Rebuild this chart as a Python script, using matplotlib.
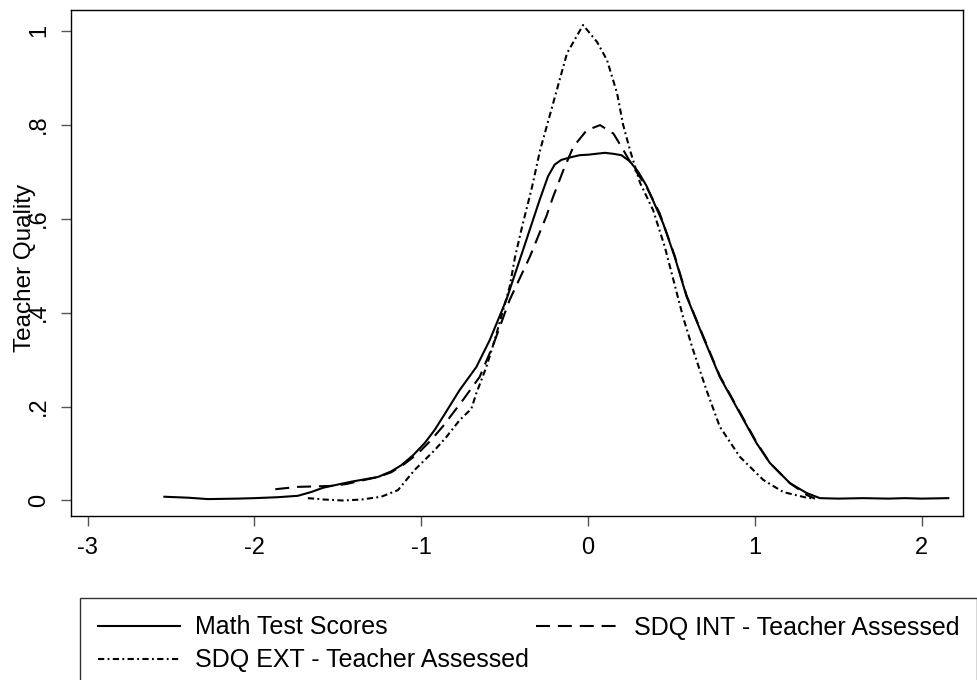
import matplotlib.pyplot as plt
from matplotlib.ticker import FixedLocator

plt.rcParams['font.family'] = ['Liberation Sans', 'DejaVu Sans']
plt.rcParams['axes.unicode_minus'] = False

# ---------------------------------------------------------- data

math_x = [-2.54, -2.40, -2.28, -2.10, -2.00, -1.86, -1.74, -1.66, -1.59, -1.50,
          -1.42, -1.34, -1.26, -1.18, -1.12, -1.05, -0.98, -0.92, -0.87, -0.77,
          -0.67, -0.59, -0.49, -0.39, -0.29, -0.24, -0.20, -0.16, -0.11, -0.05,
          0.00, 0.05, 0.10, 0.15, 0.20, 0.25, 0.30, 0.35, 0.40, 0.45,
          0.52, 0.59, 0.69, 0.79, 0.91, 1.01, 1.09, 1.21, 1.31, 1.39,
          1.50, 1.65, 1.80, 1.90, 2.00, 2.16]
math_y = [0.008, 0.006, 0.003, 0.004, 0.005, 0.007, 0.010, 0.018, 0.027, 0.034,
          0.040, 0.045, 0.050, 0.062, 0.075, 0.096, 0.122, 0.150, 0.178, 0.235,
          0.284, 0.341, 0.427, 0.533, 0.640, 0.690, 0.715, 0.725, 0.730, 0.735,
          0.736, 0.738, 0.740, 0.738, 0.735, 0.722, 0.700, 0.670, 0.630, 0.590,
          0.518, 0.435, 0.348, 0.263, 0.186, 0.122, 0.080, 0.037, 0.016, 0.005,
          0.004, 0.005, 0.004, 0.005, 0.004, 0.005]

int_x = [-1.875, -1.74, -1.54, -1.45, -1.35, -1.26, -1.18, -1.10, -1.02, -0.94,
         -0.87, -0.81, -0.75, -0.65, -0.57, -0.47, -0.35, -0.25, -0.21, -0.148,
         -0.088, -0.008, 0.072, 0.152, 0.20, 0.27, 0.35, 0.43, 0.52, 0.59,
         0.65, 0.69, 0.79, 0.91, 1.01, 1.09, 1.21, 1.31, 1.36]
int_y = [0.024, 0.029, 0.031, 0.035, 0.043, 0.050, 0.060, 0.078, 0.100, 0.129,
         0.158, 0.186, 0.214, 0.263, 0.330, 0.427, 0.518, 0.605, 0.646, 0.703,
         0.753, 0.788, 0.799, 0.781, 0.753, 0.710, 0.668, 0.611, 0.520, 0.437,
         0.384, 0.350, 0.265, 0.188, 0.124, 0.080, 0.037, 0.012, 0.004]

ext_x = [-1.68, -1.58, -1.47, -1.36, -1.24, -1.14, -1.04, -0.92, -0.85, -0.77,
         -0.70, -0.67, -0.61, -0.56, -0.47, -0.438, -0.396, -0.336, -0.288, -0.216,
         -0.126, -0.03, 0.054, 0.114, 0.174, 0.21, 0.252, 0.312, 0.39, 0.46,
         0.57, 0.63, 0.71, 0.79, 0.91, 1.05, 1.17, 1.31, 1.36]
ext_y = [0.005, 0.002, 0.000, 0.002, 0.008, 0.022, 0.065, 0.107, 0.135, 0.171,
         0.195, 0.228, 0.284, 0.341, 0.455, 0.518, 0.582, 0.667, 0.745, 0.837,
         0.952, 1.012, 0.976, 0.937, 0.867, 0.800, 0.745, 0.676, 0.618, 0.540,
         0.390, 0.320, 0.235, 0.157, 0.093, 0.044, 0.018, 0.006, 0.004]

x_ticks = [-3, -2, -1, 0, 1, 2]
x_labels = ["-3", "-2", "-1", "0", "1", "2"]
y_ticks = [0, 0.2, 0.4, 0.6, 0.8, 1.0]
y_labels = ["0", ".2", ".4", ".6", ".8", "1"]

# ---------------------------------------------------------- figure

fig = plt.figure(figsize=(9.78, 6.8), dpi=100)
ax = fig.add_axes([71/978, 1 - 516/680, (963 - 71)/978, (516 - 10)/680])

l_math, = ax.plot(math_x, math_y, color="black", linewidth=1.5, label="Math Test Scores")
l_int, = ax.plot(int_x, int_y, color="black", linewidth=1.5, dashes=(6.7, 3.8),
                 label="SDQ INT - Teacher Assessed")
l_ext, = ax.plot(ext_x, ext_y, color="black", linewidth=1.5, dashes=(3.0, 1.6, 0.9, 1.6),
                 label="SDQ EXT - Teacher Assessed")

ax.set_xlim(-3.10, 2.248)
ax.set_ylim(-0.033, 1.044)

ax.xaxis.set_major_locator(FixedLocator(x_ticks))
ax.set_xticklabels(x_labels, fontsize=17)
ax.yaxis.set_major_locator(FixedLocator(y_ticks))
ax.set_yticklabels(y_labels, fontsize=17, rotation=90, va="center")
ax.tick_params(axis="both", direction="out", length=7, width=1, color="#555555")
ax.tick_params(axis="x", pad=8)
ax.tick_params(axis="y", pad=8)

for s in ax.spines.values():
    s.set_linewidth(1.0)
    s.set_color("black")

ax.set_ylabel("Teacher Quality", fontsize=17.5)
ax.yaxis.set_label_coords((36 - 71)/(963 - 71), 0.49)

# legend filled row by row like the original (matplotlib fills by column)
handles = [l_math, l_ext, l_int]
fig.legend(handles=handles, labels=[h.get_label() for h in handles],
           loc="upper left", bbox_to_anchor=(80/978, 1 - 598/680), ncol=2,
           fontsize=18, frameon=True, fancybox=False, edgecolor="black",
           handlelength=3.3, handletextpad=0.6, borderpad=0.7,
           labelspacing=0.35, columnspacing=0.3, borderaxespad=0)

fig.savefig("out.png", dpi=100)
